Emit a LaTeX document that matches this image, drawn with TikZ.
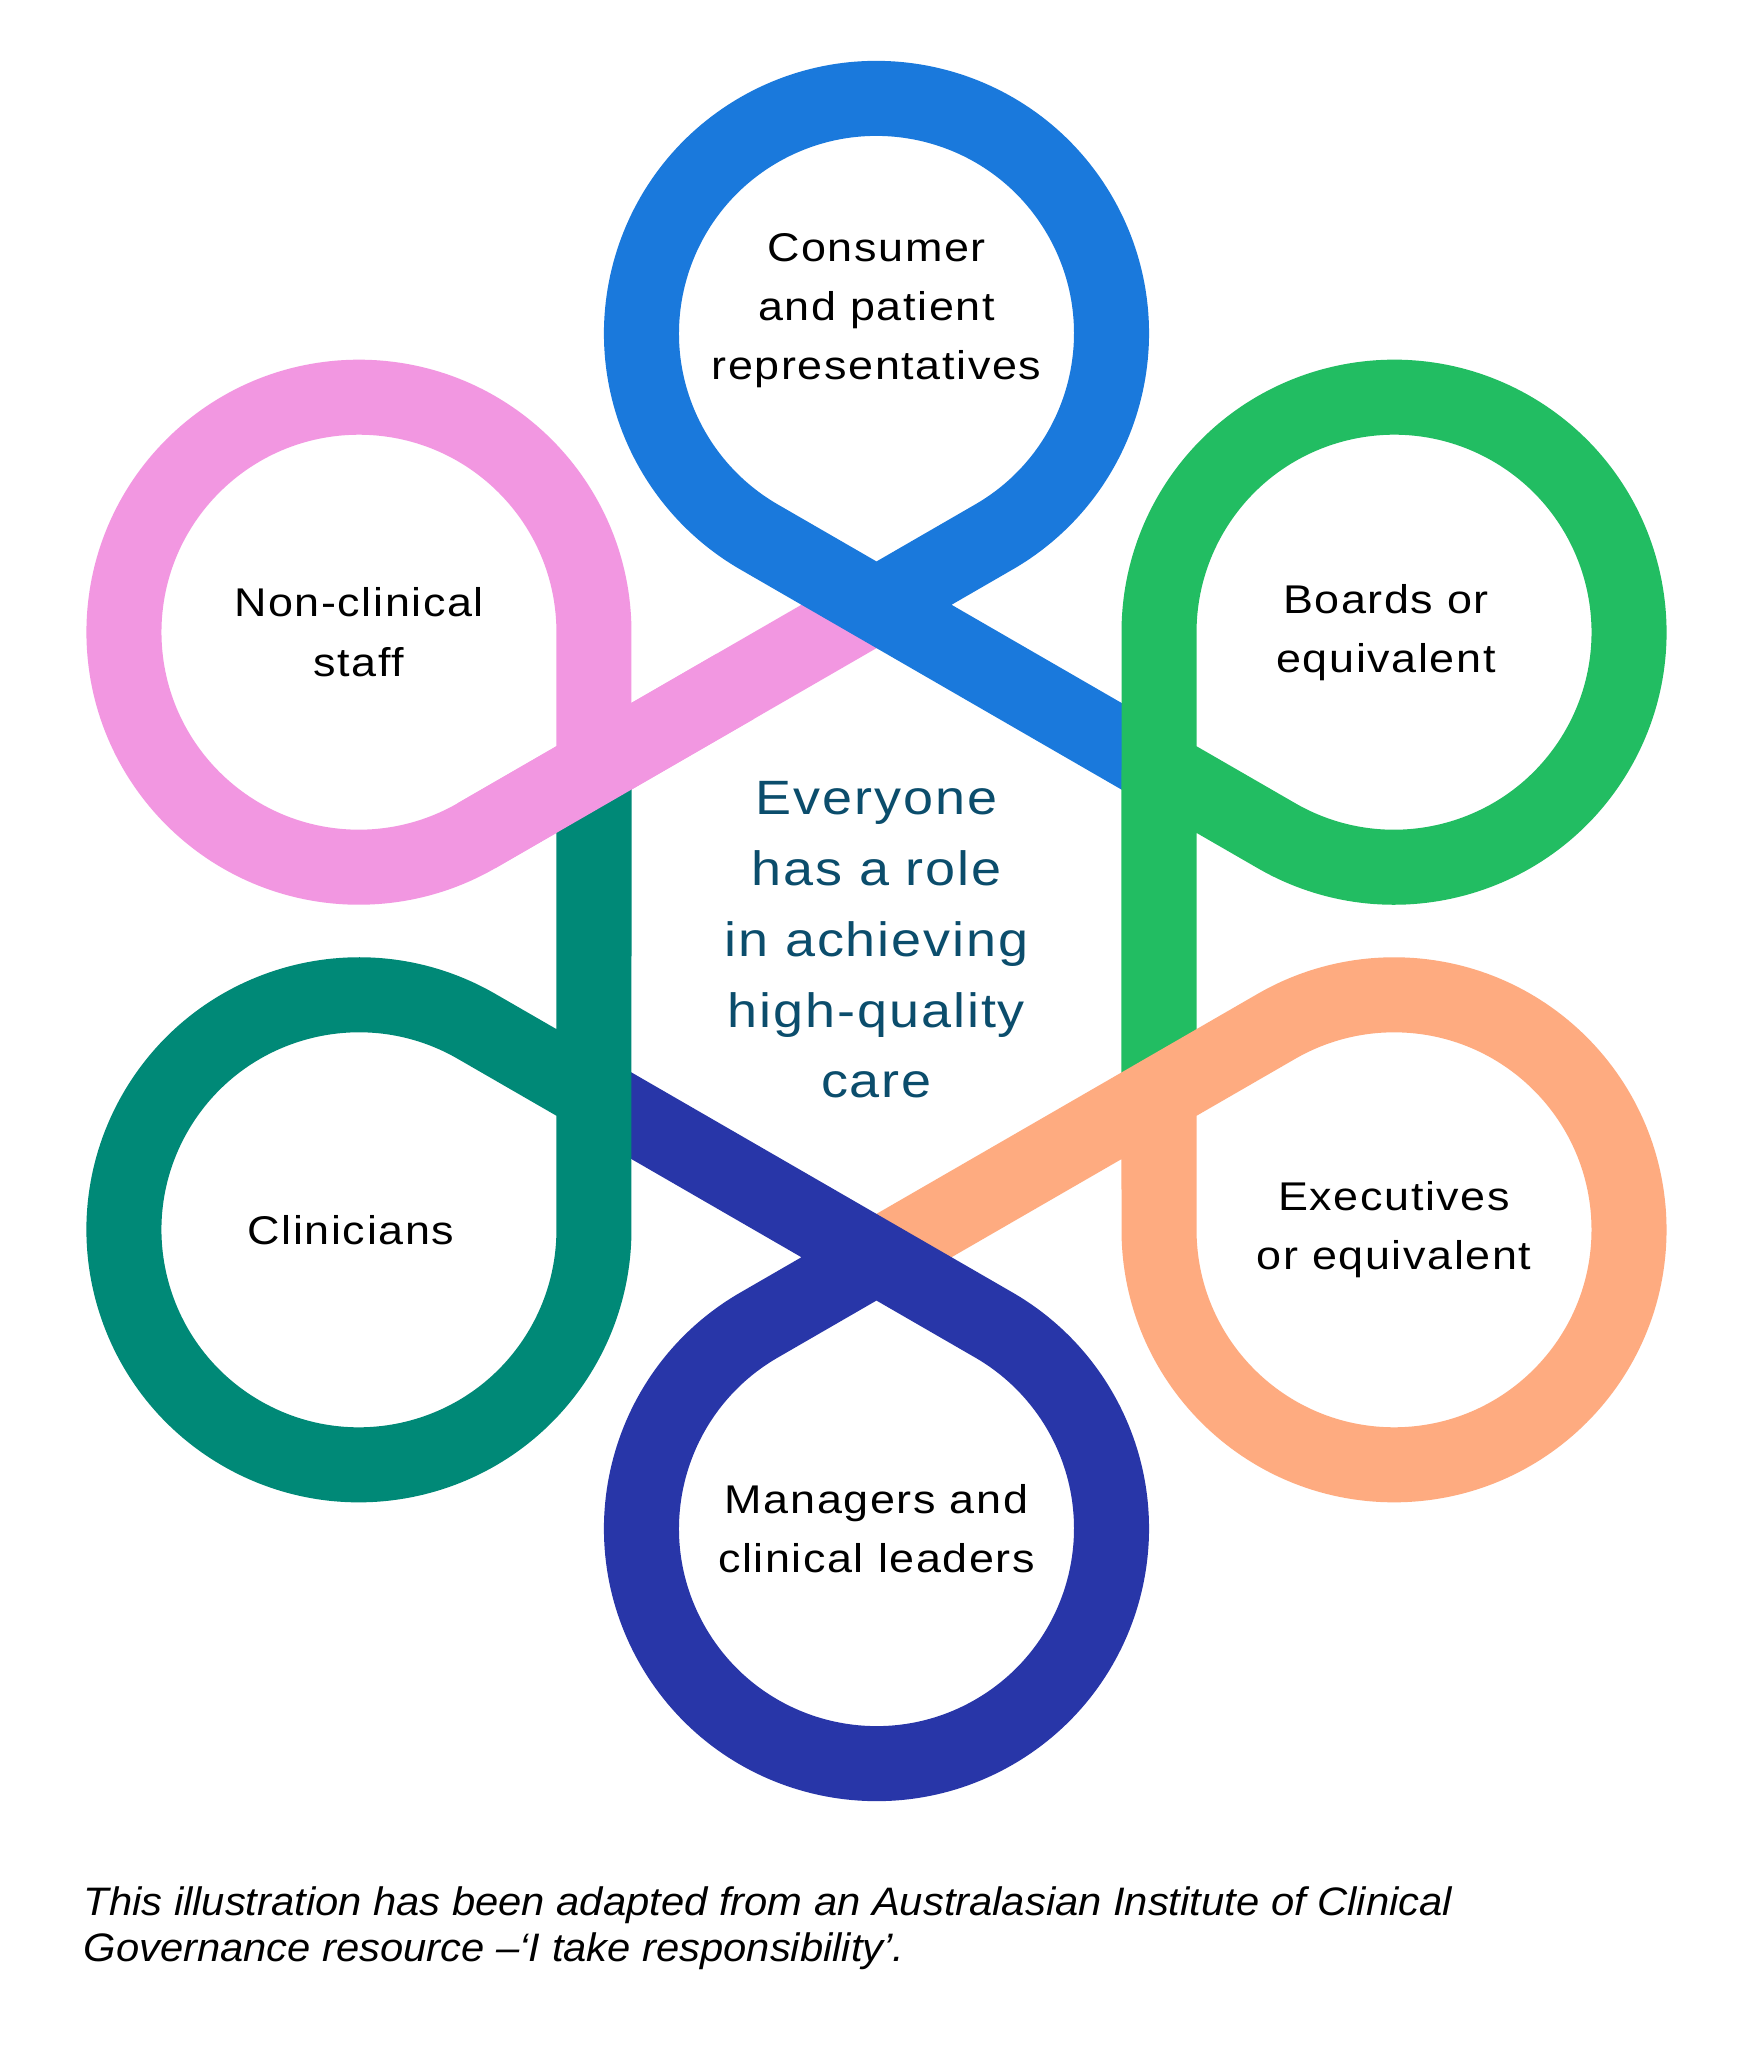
\documentclass[tikz,border=0pt]{standalone}
\usepackage{fontspec}
\setmainfont[FakeStretch=1.12,LetterSpace=4]{Liberation Sans}
\newfontfamily\notefont[FakeStretch=1.05]{Liberation Sans}
\usetikzlibrary{calc}
\definecolor{consumerblue}{HTML}{1A79DC}
\definecolor{boardgreen}{HTML}{22BD62}
\definecolor{execorange}{HTML}{FEAB80}
\definecolor{managernavy}{HTML}{2836A8}
\definecolor{clinteal}{HTML}{008977}
\definecolor{staffpink}{HTML}{F297E1}
\definecolor{rolecolor}{HTML}{0B4D6C}

\begin{document}
\begin{tikzpicture}[x=0.01cm,y=0.01cm,
  ribbonline/.style={line width=0.75cm},
  rolelabel/.style={align=center,font=\fontsize{11.4}{16.8}\selectfont}]
\fill[white] (-876.5,-1125) rectangle (863.5,931);
\foreach \a/\n in {150/1,90/2,30/3,-30/4,-90/5,-150/6}{
  \coordinate (c\n) at (\a:597.6);
  \coordinate (t\n) at (\a:326.2);}
\foreach \a/\col/\n/\m in {150/staffpink/1/2, 90/consumerblue/2/3, 30/boardgreen/3/4, -30/execorange/4/5, -90/managernavy/5/6, -150/clinteal/6/1}{
  \draw[ribbonline,\col] (t\n) -- ($(c\n)+(\a+210:235)$) arc[start angle=\a+210, end angle=\a+510, radius=235] -- (t\m);}
\draw[ribbonline,staffpink] ($(c1)+(300:235)$) -- ($(t1)!.5!(t2)$);
\node[rolelabel] (staff) at (c1) {Non-clinical\\staff};
\node[rolelabel] (consumer) at ([yshift=0.23cm]c2) {Consumer\\and patient\\representatives};
\node[rolelabel] (boards) at ([xshift=-0.08cm]c3) {Boards or\\equivalent};
\node[rolelabel] (executives) at (c4) {Executives\\or equivalent};
\node[rolelabel] (managers) at (c5) {Managers and\\clinical leaders};
\node[rolelabel] (clinicians) at ([xshift=-0.08cm]c6) {Clinicians};
\node[align=center,text=rolecolor,font=\fontsize{13.7}{20.1}\selectfont] (everyone) at (0,-9) {Everyone\\has a role\\in achieving\\high-quality\\care};
\node[anchor=north west,inner sep=0,align=left,font=\notefont\itshape\fontsize{11.3}{13.2}\selectfont] (note) at (-793.5,-955) {This illustration has been adapted from an Australasian Institute of Clinical\\Governance resource –‘I take responsibility’.};
\end{tikzpicture}
\end{document}
